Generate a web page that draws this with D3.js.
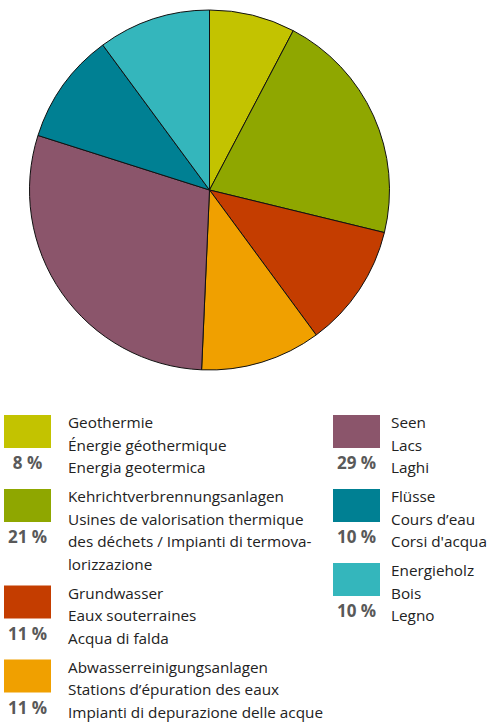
<!DOCTYPE html>
<html>
<head>
<meta charset="utf-8">
<script src="https://cdn.jsdelivr.net/npm/d3@7"></script>
<style>
  body { margin: 0; background: #fff; }
  svg { display: block; }
  .legend-text { font-family: "Open Sans", sans-serif; font-size: 15.3px; fill: #222; }
  .legend-pct { font-family: "Open Sans", sans-serif; font-size: 17px; font-weight: 700; fill: #595959; }
</style>
</head>
<body>
<div id="chart"></div>
<script>
// chart data
const categories = [
  ["Geothermie", "Énergie géothermique", "Energia geotermica"],
  ["Kehrichtverbrennungsanlagen", "Usines de valorisation thermique", "des déchets / Impianti di termova-", "lorizzazione"],
  ["Grundwasser", "Eaux souterraines", "Acqua di falda"],
  ["Abwasserreinigungsanlagen", "Stations d’épuration des eaux", "Impianti di depurazione delle acque"],
  ["Seen", "Lacs", "Laghi"],
  ["Flüsse", "Cours d’eau", "Corsi d'acqua"],
  ["Energieholz", "Bois", "Legno"]
];
const values = [7.7, 21.1, 11.1, 10.8, 29.2, 10.0, 10.1];
const pctLabels = ["8 %", "21 %", "11 %", "11 %", "29 %", "10 %", "10 %"];
const colors = ["#c3c300", "#8fa700", "#c43d00", "#f0a000", "#8b556b", "#008093", "#34b6bc"];
const columnOf = [0, 0, 0, 0, 1, 1, 1];

const width = 490, height = 722;
const cx = 209.5, cy = 190, radius = 180;

const svg = d3.select('#chart').append('svg')
    .attr('width', width)
    .attr('height', height);

// pie
const pie = d3.pie().sort(null).value(d => d);
const arc = d3.arc().innerRadius(0).outerRadius(radius);

const pieG = svg.append('g')
    .attr('transform', `translate(${cx},${cy})`);

pieG.selectAll('path')
    .data(pie(values))
  .join('path')
    .attr('d', arc)
    .attr('fill', (d, i) => colors[i])
    .attr('stroke', '#111')
    .attr('stroke-width', 1)
    .attr('stroke-linejoin', 'round');

// legend layout: two columns, baselines stepping by number of lines
const col = [
  {squareX: 4, textX: 68},
  {squareX: 333, textX: 391}
];
const lineHeight = 22.5, itemGap = 29, firstBaseline = 428;
const squareW = 47, squareH = 33;

const items = [];
const nextBase = [firstBaseline, firstBaseline];
categories.forEach((lines, i) => {
  const c = columnOf[i];
  items.push({lines, i, c, base: nextBase[c]});
  nextBase[c] += (lines.length - 1) * lineHeight + itemGap;
});

const legend = svg.append('g').attr('class', 'legend');

const item = legend.selectAll('.legend-item')
    .data(items)
  .join('g')
    .attr('class', 'legend-item');

item.append('rect')
    .attr('x', d => col[d.c].squareX)
    .attr('y', d => d.base - 13)
    .attr('width', squareW)
    .attr('height', squareH)
    .attr('fill', d => colors[d.i]);

item.append('text')
    .attr('class', 'legend-pct')
    .attr('text-anchor', 'middle')
    .attr('x', d => col[d.c].squareX + squareW / 2)
    .attr('y', d => d.base + 41)
    .text(d => pctLabels[d.i]);

item.each(function(d) {
  d3.select(this).selectAll('.legend-text')
      .data(d.lines)
    .join('text')
      .attr('class', 'legend-text')
      .attr('x', col[d.c].textX)
      .attr('y', (t, k) => d.base + k * lineHeight)
      .text(t => t);
});
</script>
</body>
</html>
